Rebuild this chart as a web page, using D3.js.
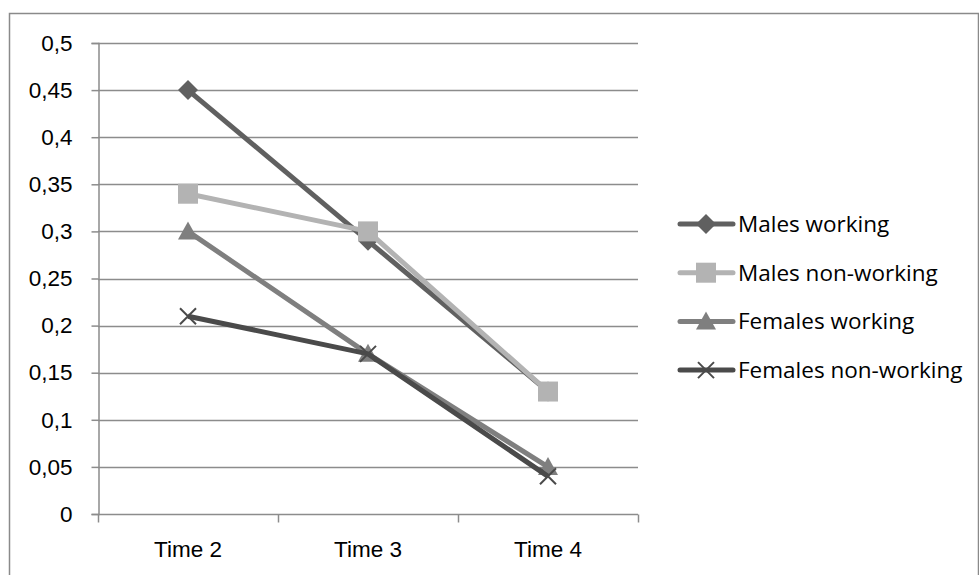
<!DOCTYPE html>
<html>
<head>
<meta charset="utf-8">
<script src="https://cdn.jsdelivr.net/npm/d3@7"></script>
<style>
  body { margin: 0; background: #fff; }
  svg { font-family: "Open Sans", sans-serif; }
</style>
</head>
<body>
<div class="chart-container"></div>
<script>
const width = 979;
const height = 575;

// chart values
const categories = ["Time 2", "Time 3", "Time 4"];
const seriesNames = ["Males working", "Males non-working", "Females working", "Females non-working"];
const malesWorking = [0.45, 0.29, 0.13];
const malesNonWorking = [0.34, 0.30, 0.13];
const femalesWorking = [0.30, 0.17, 0.05];
const femalesNonWorking = [0.21, 0.17, 0.04];
const yTicks = [0, 0.05, 0.1, 0.15, 0.2, 0.25, 0.3, 0.35, 0.4, 0.45, 0.5];

const seriesColors = ["#606060", "#b3b3b3", "#7f7f7f", "#4a4a4a"];
const seriesMarkers = ["diamond", "square", "triangle", "cross"];

const series = seriesNames.map((name, i) => ({
    name: name,
    values: [malesWorking, malesNonWorking, femalesWorking, femalesNonWorking][i],
    color: seriesColors[i],
    marker: seriesMarkers[i]
}));

const plot = { left: 98, right: 638, top: 43, bottom: 514 };
const fontSize = 22.5;

const x = d3.scaleBand()
    .domain(categories)
    .range([plot.left, plot.right]);

const y = d3.scaleLinear()
    .domain([0, 0.5])
    .range([plot.bottom, plot.top]);

const fmt = v => String(+v.toFixed(2)).replace(".", ",");

// draws a marker of the given kind centred at 0,0
function drawMarker(g, kind, color)
{
    if (kind == "diamond") {
        g.append("path").attr("d", "M0,-10L10,0L0,10L-10,0Z").attr("fill", color);
    } else if (kind == "square") {
        g.append("rect").attr("x", -10).attr("y", -10).attr("width", 20).attr("height", 20).attr("fill", color);
    } else if (kind == "triangle") {
        g.append("path").attr("d", "M0,-10L10,8L-10,8Z").attr("fill", color);
    } else {
        g.append("path").attr("d", "M-8,-8L8,8M-8,8L8,-8")
          .attr("stroke", color).attr("stroke-width", 2).attr("fill", "none");
    }
}

const svg = d3.select(".chart-container").append("svg")
    .attr("width", width)
    .attr("height", height);

svg.append("rect")
    .attr("x", 9.5).attr("y", 13.5)
    .attr("width", width - 10).attr("height", height)
    .attr("fill", "#fff")
    .attr("stroke", "#8a8a8a")
    .attr("stroke-width", 1.5);

// gridlines
svg.append("g")
    .selectAll("line")
    .data(yTicks.filter(d => d > 0))
    .join("line")
    .attr("x1", plot.left).attr("x2", plot.right)
    .attr("y1", d => Math.round(y(d)) + 0.5).attr("y2", d => Math.round(y(d)) + 0.5)
    .attr("stroke", "#8c8c8c")
    .attr("stroke-width", 1.5);

// y axis
const yAxis = svg.append("g")
    .attr("transform", `translate(${plot.left + 0.5},0)`)
    .call(d3.axisLeft(y).tickValues(yTicks).tickSize(7).tickPadding(19).tickFormat(fmt));
yAxis.select(".domain").attr("stroke", "#8c8c8c").attr("stroke-width", 1.5);
yAxis.selectAll(".tick line").attr("stroke", "#8c8c8c").attr("stroke-width", 1.5);
yAxis.selectAll("text").attr("font-size", fontSize).attr("fill", "#000").attr("font-family", "inherit");

// x axis
const xAxis = svg.append("g")
    .attr("transform", `translate(0,${plot.bottom + 0.5})`)
    .call(d3.axisBottom(x).tickSize(0).tickPadding(0).tickFormat(d => d));
xAxis.select(".domain").remove();
xAxis.selectAll("text")
    .attr("y", 35)
    .attr("dy", "0.35em")
    .attr("font-size", fontSize).attr("fill", "#000").attr("font-family", "inherit");
xAxis.append("line")
    .attr("x1", plot.left).attr("x2", plot.right)
    .attr("stroke", "#8c8c8c").attr("stroke-width", 1.5);
xAxis.selectAll(".sep")
    .data(categories.map(c => x(c)).concat([plot.right]))
    .join("line")
    .attr("class", "sep")
    .attr("x1", d => d + 0.5).attr("x2", d => d + 0.5)
    .attr("y1", 0).attr("y2", 8)
    .attr("stroke", "#8c8c8c").attr("stroke-width", 1.5);

// lines and markers
const line = d3.line()
    .x((d, i) => x(categories[i]) + x.bandwidth() / 2)
    .y(d => y(d));

series.forEach(s => {
    const g = svg.append("g");
    g.append("path")
        .attr("d", line(s.values))
        .attr("fill", "none")
        .attr("stroke", s.color)
        .attr("stroke-width", 5)
        .attr("stroke-linejoin", "round");
    s.values.forEach((v, i) => {
        const m = g.append("g")
            .attr("transform", `translate(${x(categories[i]) + x.bandwidth() / 2},${y(v)})`);
        drawMarker(m, s.marker, s.color);
    });
});

// legend
const legend = svg.append("g")
    .attr("transform", "translate(680,224)");

const item = legend.selectAll("g")
    .data(series)
    .join("g")
    .attr("transform", (d, i) => `translate(0,${i * 48.7})`);

item.append("line")
    .attr("x1", 0).attr("x2", 53)
    .attr("stroke", d => d.color)
    .attr("stroke-width", 5)
    .attr("stroke-linecap", "round");

item.each(function(d) {
    const m = d3.select(this).append("g").attr("transform", "translate(26,0)");
    drawMarker(m, d.marker, d.color);
});

item.append("text")
    .attr("x", 58)
    .attr("y", 0)
    .attr("dy", "0.35em")
    .attr("font-size", fontSize)
    .attr("fill", "#000")
    .text(d => d.name);
</script>
</body>
</html>
